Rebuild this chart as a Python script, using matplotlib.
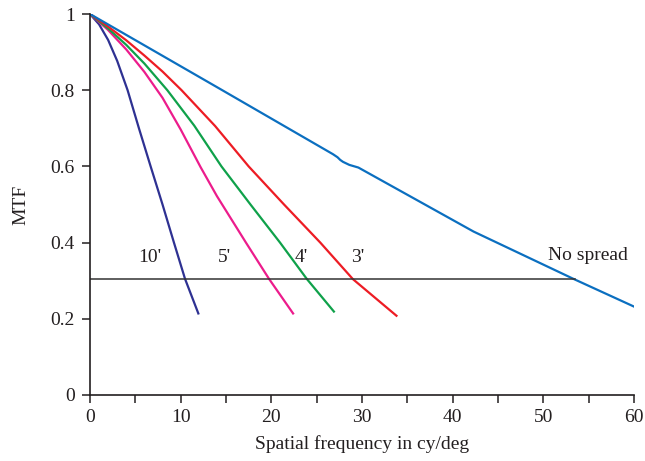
import matplotlib
matplotlib.use("Agg")
import matplotlib.pyplot as plt
from matplotlib.ticker import MultipleLocator

# MTF curves for different amounts of line spread
freq_10 = [0, 1, 2, 3, 4.15, 5.4, 6.69, 8.0, 9.26, 10.48, 11.95]
mtf_10 = [1, 0.973, 0.932, 0.877, 0.8, 0.7, 0.6, 0.5, 0.4, 0.305, 0.214]

freq_5 = [0, 2, 4, 6, 8, 10, 12.2, 14.0, 17.2, 19.74, 22.4]
mtf_5 = [1, 0.958, 0.907, 0.848, 0.78, 0.697, 0.598, 0.522, 0.4, 0.305, 0.214]

freq_4 = [0, 2, 4, 6, 8.53, 11.5, 14.5, 17.7, 20.96, 23.9, 26.9]
mtf_4 = [1, 0.962, 0.919, 0.870, 0.8, 0.707, 0.6, 0.5, 0.4, 0.305, 0.219]

freq_3 = [0, 2, 4, 6, 8, 10.1, 13.8, 17.5, 21.4, 25.4, 29.0, 33.8]
mtf_3 = [1, 0.967, 0.931, 0.891, 0.849, 0.8, 0.706, 0.6, 0.5, 0.4, 0.304, 0.208]

freq_0 = [0, 14.3, 26.8, 27.3, 27.6, 27.9, 28.6, 29.6, 42.3, 53.3, 60]
mtf_0 = [1, 0.804, 0.632, 0.624, 0.617, 0.612, 0.604, 0.597, 0.429, 0.305, 0.232]

threshold = 0.305
threshold_end = 53.5

curve_labels = ["10'", "5'", "4'", "3'", "No spread"]
label_x = [6.6, 14.8, 23.3, 29.5, 54.9]
label_y = [0.36, 0.36, 0.36, 0.36, 0.365]

xticks = [0, 10, 20, 30, 40, 50, 60]
xticklabels = ["0", "10", "20", "30", "40", "50", "60"]
yticks = [0, 0.2, 0.4, 0.6, 0.8, 1.0]
yticklabels = ["0", "0.2", "0.4", "0.6", "0.8", "1"]

plt.rcParams["font.family"] = ["Liberation Serif", "DejaVu Serif"]
plt.rcParams["font.size"] = 14

fig = plt.figure(figsize=(6.45, 4.61), dpi=100)
ax = fig.add_axes([0.1395, 0.1432, 0.8435, 0.8264])

lw = 1.6
ax.plot(freq_10, mtf_10, color="#2e3192", lw=lw)
ax.plot(freq_5, mtf_5, color="#ec1c8c", lw=lw)
ax.plot(freq_4, mtf_4, color="#0fa14a", lw=lw)
ax.plot(freq_3, mtf_3, color="#ed1c24", lw=lw)
ax.plot(freq_0, mtf_0, color="#0b6fc0", lw=lw)
ax.plot([0, threshold_end], [threshold, threshold], color="#333333", lw=1.1)

for txt, x, y in zip(curve_labels, label_x, label_y):
    ax.text(x, y, txt, ha="center", va="center", color="#231f20")

ax.set_xlim(0, 60)
ax.set_ylim(0, 1)
ax.set_xticks(xticks)
ax.set_xticklabels(xticklabels)
ax.xaxis.set_minor_locator(MultipleLocator(5))
ax.set_yticks(yticks)
ax.set_yticklabels(yticklabels)

for side in ("top", "right"):
    ax.spines[side].set_visible(False)
for side in ("left", "bottom"):
    ax.spines[side].set_linewidth(1.2)
    ax.spines[side].set_color("#231f20")

ax.tick_params(axis="both", which="both", direction="out", length=6,
               width=1.1, color="#231f20", labelcolor="#231f20")
ax.tick_params(axis="x", which="major", pad=4)
ax.tick_params(axis="y", which="major", pad=5)

ax.set_xlabel("Spatial frequency in cy/deg", color="#231f20", labelpad=7)
ax.set_ylabel("MTF", color="#231f20", labelpad=15)

fig.savefig("out.png", dpi=100)
